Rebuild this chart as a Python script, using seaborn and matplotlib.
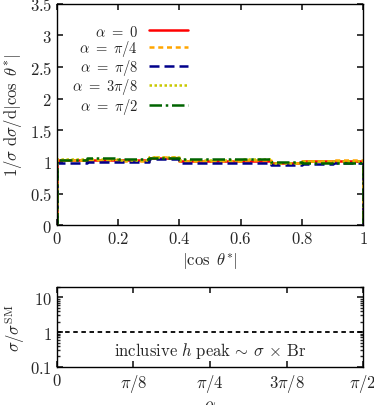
import numpy as np
import pandas as pd
import seaborn as sns
import matplotlib.pyplot as plt
from matplotlib.ticker import LogLocator, NullFormatter

sns.set_theme(style="ticks")
plt.rcParams['mathtext.fontset'] = 'cm'
plt.rcParams['font.family'] = ['DejaVu Serif']

# bin edges of |cos theta*| and normalised distributions per alpha
edges = [0.0, 0.1, 0.2, 0.3, 0.4, 0.5, 0.6, 0.7, 0.8, 0.9, 1.0]
labels = [r'$\alpha\ =\ 0$', r'$\alpha\ =\ \pi/4$', r'$\alpha\ =\ \pi/8$',
          r'$\alpha\ =\ 3\pi/8$', r'$\alpha\ =\ \pi/2$']
val_a0 = [1.03, 1.03, 1.03, 1.06, 1.02, 1.02, 1.02, 0.98, 1.01, 1.01]
val_pi4 = [1.03, 1.03, 1.02, 1.07, 1.02, 1.02, 1.03, 0.98, 1.01, 1.03]
val_pi8 = [0.99, 1.00, 1.00, 1.04, 0.99, 0.99, 0.99, 0.95, 0.97, 0.98]
val_3pi8 = [1.04, 1.04, 1.03, 1.07, 1.03, 1.03, 1.04, 0.99, 1.01, 1.02]
val_pi2 = [1.03, 1.06, 1.04, 1.06, 1.04, 1.05, 1.05, 1.00, 0.99, 0.99]
series = [val_a0, val_pi4, val_pi8, val_3pi8, val_pi2]

colors = ['#ff0000', '#ffa500', '#00008b', '#c8c800', '#006400']
dashes = [None, (2, 1.5), (4, 2), (1, 1), (5, 1.5, 1, 1.5)]

# ratio sigma/sigma_SM vs alpha (inclusive h peak)
alpha_vals = [0.0, np.pi / 8, np.pi / 4, 3 * np.pi / 8, np.pi / 2]
ratio_vals = [1.0, 1.0, 1.0, 1.0, 1.0]

fig = plt.figure(figsize=(3.74, 4.06), dpi=100)
ax1 = fig.add_axes([0.152, 0.443, 0.819, 0.545])
ax2 = fig.add_axes([0.152, 0.094, 0.819, 0.197])

for lab, vals, c, d in zip(labels, series, colors, dashes):
    # step outline dropping to zero at both ends
    xs = [edges[0]] + edges + [edges[-1]]
    ys = [0.0] + vals + [vals[-1], 0.0]
    df = pd.DataFrame({'x': xs, 'y': ys})
    sns.lineplot(data=df, x='x', y='y', ax=ax1, color=c, lw=1.8,
                 drawstyle='steps-post', label=lab, sort=False, estimator=None)
    if d is not None:
        ax1.get_lines()[-1].set_dashes(d)

ax1.set_xlim(0, 1)
ax1.set_ylim(0, 3.5)
ax1.set_xticks([0, 0.2, 0.4, 0.6, 0.8, 1])
ax1.set_xticklabels(['$0$', '$0.2$', '$0.4$', '$0.6$', '$0.8$', '$1$'])
ax1.set_yticks([0, 0.5, 1, 1.5, 2, 2.5, 3, 3.5])
ax1.set_yticklabels(['$0$', '$0.5$', '$1$', '$1.5$', '$2$', '$2.5$', '$3$', '$3.5$'])
ax1.set_xlabel(r'$|\cos\ \theta^{*}|$', fontsize=12, labelpad=2)
ax1.set_ylabel(r'$1/\sigma\ \mathrm{d}\sigma/\mathrm{d}|\cos\ \theta^{*}|$', fontsize=12, labelpad=4)
ax1.tick_params(direction='in', top=True, right=True, labelsize=12, length=4)

# text left of handle, column right-aligned so labels line up on the right
leg = ax1.legend(loc='upper left', bbox_to_anchor=(0.017, 0.957), frameon=False,
                 markerfirst=False, fontsize=10.5, handlelength=2.7,
                 labelspacing=-0.05, handletextpad=0.75, borderaxespad=0.3)

df2 = pd.DataFrame({'alpha': alpha_vals, 'ratio': ratio_vals})
sns.lineplot(data=df2, x='alpha', y='ratio', ax=ax2, color='black', lw=1.3)
ax2.get_lines()[-1].set_dashes((2.5, 2))
ax2.set_yscale('log')
ax2.set_xlim(0, np.pi / 2)
ax2.set_ylim(0.1, 20)
ax2.set_xticks([0, np.pi / 8, np.pi / 4, 3 * np.pi / 8, np.pi / 2])
ax2.set_xticklabels(['$0$', r'$\pi/8$', r'$\pi/4$', r'$3\pi/8$', r'$\pi/2$'])
ax2.set_yticks([0.1, 1, 10])
ax2.set_yticklabels(['$0.1$', '$1$', '$10$'])
ax2.yaxis.set_minor_locator(LogLocator(base=10, subs=np.arange(2, 10)))
ax2.yaxis.set_minor_formatter(NullFormatter())
ax2.tick_params(which='both', direction='in', top=True, right=True, labelsize=12)
ax2.tick_params(which='major', length=4)
ax2.tick_params(which='minor', length=2)
ax2.set_xlabel(r'$\alpha$', fontsize=12, labelpad=2)
ax2.set_ylabel(r'$\sigma/\sigma^{\mathrm{SM}}$', fontsize=12, labelpad=2)
ax2.text(np.pi / 4, 0.3, r'$\mathrm{inclusive}\ h\ \mathrm{peak}\,\sim\,\sigma\,\times\,\mathrm{Br}$',
         ha='center', va='center', fontsize=12)

for ax in (ax1, ax2):
    for s in ax.spines.values():
        s.set_linewidth(1.0)
        s.set_color('black')

fig.savefig('out.png', dpi=100)
